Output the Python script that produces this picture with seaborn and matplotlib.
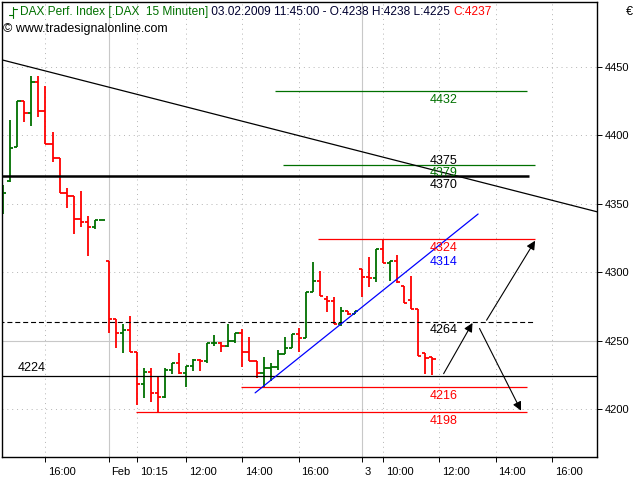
import matplotlib
matplotlib.use("Agg")
import matplotlib.pyplot as plt
import matplotlib.transforms as mtransforms
from matplotlib.lines import Line2D
import numpy as np
import pandas as pd
import seaborn as sns

# 15 minute bars of the DAX, 30.01.2009 14:30 up to 03.02.2009 11:45
opens = [4354.5, 4366.4, 4391.1, 4424.9, 4416.5, 4439.0, 4417.5, 4393.6, 4383.2, 4358.1,
         4355.6, 4338.6, 4336.7, 4332.8, 4338.1,
         4308.5, 4265.8, 4255.5, 4257.7, 4242.0, 4218.5, 4227.4, 4212.0, 4208.8, 4228.7,
         4234.0, 4226.3, 4231.6, 4235.9, 4235.2, 4248.6, 4248.6, 4246.2, 4249.8, 4255.9,
         4241.8, 4235.2, 4226.3, 4229.8, 4230.8, 4240.5, 4245.0, 4255.2, 4251.8, 4285.3,
         4293.8, 4280.4, 4279.2, 4262.1, 4271.8, 4269.6,
         4302.4, 4296.3, 4295.5, 4317.1, 4306.8, 4308.0, 4290.2, 4280.0, 4273.1, 4240.8, 4238.0]
highs = [4363.5, 4411.1, 4424.9, 4424.9, 4443.4, 4443.4, 4435.6, 4402.6, 4383.2, 4361.3,
         4355.6, 4359.3, 4341.1, 4338.1, 4338.1,
         4308.5, 4265.8, 4262.0, 4268.2, 4242.0, 4230.3, 4230.3, 4223.5, 4230.0, 4234.0,
         4241.3, 4231.6, 4236.9, 4236.9, 4248.6, 4254.0, 4249.1, 4262.2, 4255.9, 4258.3,
         4253.0, 4235.2, 4238.1, 4234.0, 4243.3, 4252.8, 4255.2, 4259.6, 4285.3, 4307.3,
         4301.2, 4282.8, 4281.6, 4274.8, 4271.8, 4271.8,
         4302.4, 4311.0, 4317.1, 4323.2, 4308.5, 4312.9, 4290.2, 4297.5, 4273.1, 4240.8, 4238.0]
lows = [4342.5, 4365.9, 4391.1, 4409.9, 4407.0, 4413.1, 4393.5, 4380.7, 4357.6, 4346.7,
        4327.7, 4332.8, 4312.1, 4331.3, 4338.1,
        4255.5, 4244.9, 4240.8, 4242.0, 4202.9, 4208.3, 4205.4, 4198.0, 4208.3, 4225.8,
        4225.8, 4216.1, 4228.2, 4227.9, 4234.0, 4246.2, 4241.8, 4245.7, 4248.6, 4231.2,
        4235.2, 4222.6, 4216.5, 4220.5, 4228.4, 4240.5, 4245.0, 4242.0, 4251.8, 4285.3,
        4282.8, 4271.1, 4262.1, 4260.9, 4269.0, 4269.6,
        4281.6, 4289.0, 4292.6, 4306.8, 4293.8, 4291.9, 4277.9, 4273.1, 4238.9, 4225.4, 4225.0]
closes = [4358.1, 4390.6, 4424.9, 4416.5, 4439.0, 4417.5, 4393.6, 4383.2, 4358.1, 4355.6,
          4338.6, 4336.7, 4332.8, 4338.1, 4338.1,
          4265.8, 4255.5, 4257.7, 4242.0, 4218.5, 4227.4, 4212.0, 4208.8, 4228.7, 4234.0,
          4226.3, 4231.6, 4235.9, 4235.2, 4248.6, 4248.6, 4246.2, 4249.8, 4255.9, 4241.8,
          4235.2, 4226.3, 4229.8, 4230.8, 4240.5, 4245.0, 4255.2, 4251.8, 4285.3, 4293.8,
          4282.8, 4279.2, 4262.1, 4271.8, 4269.6, 4271.5,
          4296.3, 4295.5, 4317.1, 4306.8, 4308.0, 4292.6, 4277.9, 4273.1, 4238.9, 4237.6, 4237.0]

# time axis (bar numbers)
tick_bars = [6, 15, 19, 26, 34, 42, 51, 54, 62, 70, 78]
tick_labels = ['16:00', 'Feb', '10:15', '12:00', '14:00', '16:00', '3', '10:00', '12:00', '14:00', '16:00']
day_breaks = [15, 51]
price_ticks = [4200, 4250, 4300, 4350, 4400, 4450]

# drawn support / resistance levels
level_values = [4432, 4378, 4370, 4324, 4264, 4224, 4216, 4198]
level_from = [38.6, 39.8, -1, 44.7, -1, -1, 33.8, 18.9]
level_to = [74.4, 75.6, 74.7, 75.6, 75.6, 90, 74.5, 74.5]

label_texts = ['4432', '4379', '4370', '4324', '4314', '4264', '4216', '4198']
label_values = [4432, 4379, 4370, 4324, 4314, 4264, 4216, 4198]

# trend lines (bar, price)
down_trend_bars = [-0.2, 84.5]
down_trend_prices = [4455, 4344]
up_trend_bars = [35.8, 67.5]
up_trend_prices = [4212, 4342.5]

# projection arrows
arrow_start_bars = [62.6, 68.7, 67.7]
arrow_start_prices = [4226, 4265, 4259]
arrow_end_bars = [66.7, 75.6, 73.6]
arrow_end_prices = [4263, 4323, 4199]

bars = pd.DataFrame({'open': opens, 'high': highs, 'low': lows, 'close': closes})
bars['bar'] = np.arange(len(bars))
bars['up'] = bars['close'] >= bars['open']

GREEN = '#007000'
RED = '#ff0000'

sns.set_theme(style='white')
plt.rcParams['font.family'] = ['Liberation Sans', 'DejaVu Sans']

fig = plt.figure(figsize=(6.4, 4.8), dpi=100)
ax = fig.add_axes([2 / 640, 23 / 480, 595 / 640, 455 / 480])
ax.set_xlim(-0.18, 84.4)
ax.set_ylim(4165.2, 4497.2)

# grid
for b in tick_bars:
    if b in day_breaks:
        ax.axvline(b, color='#c8c8c8', lw=0.8, zorder=0)
    else:
        ax.axvline(b, color='#b4b4b4', lw=0.7, ls=(0, (1, 4)), zorder=0)
for p in price_ticks:
    if p == 4250:
        ax.axhline(p, color='#c8c8c8', lw=0.8, zorder=0)
    else:
        ax.axhline(p, color='#b4b4b4', lw=0.7, ls=(0, (1, 4)), zorder=0)

# OHLC bars
colors = np.where(bars['up'], GREEN, RED)
ax.vlines(bars['bar'], bars['low'], bars['high'], colors=colors, lw=1.3, zorder=2)
ax.hlines(bars['open'], bars['bar'] - 0.45, bars['bar'], colors=colors, lw=1.3, zorder=2)
ax.hlines(bars['close'], bars['bar'], bars['bar'] + 0.45, colors=colors, lw=1.3, zorder=2)

# levels
level_style = {
    4432: dict(color=GREEN, lw=0.9),
    4378: dict(color=GREEN, lw=0.9),
    4370: dict(color='black', lw=1.8),
    4324: dict(color=RED, lw=0.9),
    4264: dict(color='black', lw=0.8, ls=(0, (4.5, 2.6))),
    4224: dict(color='black', lw=0.9),
    4216: dict(color=RED, lw=0.9),
    4198: dict(color=RED, lw=0.9),
}
for v, x0, x1 in zip(level_values, level_from, level_to):
    ax.hlines(v, x0, x1, zorder=3, **level_style[v])

# trend lines
trends = pd.DataFrame({
    'bar': down_trend_bars + up_trend_bars,
    'price': down_trend_prices + up_trend_prices,
    'line': ['down', 'down', 'up', 'up'],
})
sns.lineplot(data=trends, x='bar', y='price', hue='line', palette={'down': 'black', 'up': '#0000ff'},
             lw=0.9, legend=False, ax=ax, zorder=3)

for xs, ys, xe, ye in zip(arrow_start_bars, arrow_start_prices, arrow_end_bars, arrow_end_prices):
    ax.annotate('', xy=(xe, ye), xytext=(xs, ys),
                arrowprops=dict(arrowstyle='-|>', color='black', lw=0.8, mutation_scale=13,
                                shrinkA=0, shrinkB=0), zorder=4)

# level labels
label_colors = {'4432': GREEN, '4379': GREEN, '4370': 'black', '4324': RED, '4314': '#0000ff',
                '4264': 'black', '4216': RED, '4198': RED}
for t, v in zip(label_texts, label_values):
    ax.annotate(t, xy=(60.6, v), xytext=(0, -2), textcoords='offset points', va='top', ha='left',
                fontsize=9, color=label_colors[t], zorder=5)
ax.annotate('4375', xy=(60.6, 4375), xytext=(0, 2), textcoords='offset points', va='bottom',
            ha='left', fontsize=9, color='black', zorder=5)
ax.annotate('4224', xy=(2.1, 4224), xytext=(0, 2), textcoords='offset points', va='bottom',
            ha='left', fontsize=9, color='black', zorder=5)

# axes
ax.yaxis.tick_right()
ax.set_yticks(price_ticks)
ax.set_yticklabels([str(p) for p in price_ticks])
ax.set_xticks(tick_bars)
ax.set_xticklabels(tick_labels, ha='left')
ax.tick_params(axis='both', which='both', direction='out', length=3.5, width=0.7, color='black',
               labelsize=8, labelcolor='black', left=False, top=False, bottom=True, right=True)
ax.tick_params(axis='y', pad=2)
ax.tick_params(axis='x', pad=3.5)
shift = mtransforms.ScaledTranslation(2 / 72, 0, fig.dpi_scale_trans)
for lab in ax.get_xticklabels():
    lab.set_transform(lab.get_transform() + shift)
ax.set_xlabel('')
ax.set_ylabel('')
for s in ax.spines.values():
    s.set_color('black')
    s.set_linewidth(1)

# header
fig.add_artist(Line2D([13 / 640, 13 / 640], [1 - 7 / 480, 1 - 18 / 480], color=GREEN, lw=0.8))
fig.add_artist(Line2D([9 / 640, 13 / 640], [1 - 15 / 480, 1 - 15 / 480], color=GREEN, lw=0.8))
fig.add_artist(Line2D([13 / 640, 17 / 640], [1 - 9 / 480, 1 - 9 / 480], color=GREEN, lw=0.8))
t1 = fig.text(20 / 640, 1 - 12 / 480, 'DAX Perf. Index [.DAX  15 Minuten]', color=GREEN,
              fontsize=8.6, va='center', ha='left')
t2 = ax.annotate(' 03.02.2009 11:45:00 - O:4238 H:4238 L:4225 ', xy=(1, 0), xycoords=t1,
                 va='bottom', ha='left', fontsize=8.6, color='#000030', annotation_clip=False)
ax.annotate('C:4237', xy=(1, 0), xycoords=t2, va='bottom', ha='left', fontsize=8.6, color=RED,
            annotation_clip=False)
fig.text(3 / 640, 1 - 29 / 480, '\u00a9 www.tradesignalonline.com', color='black', fontsize=9,
         va='center', ha='left')
fig.text(629 / 640, 1 - 12 / 480, '\u20ac', color='black', fontsize=9, va='center', ha='center')

fig.savefig('out.png', dpi=100)
